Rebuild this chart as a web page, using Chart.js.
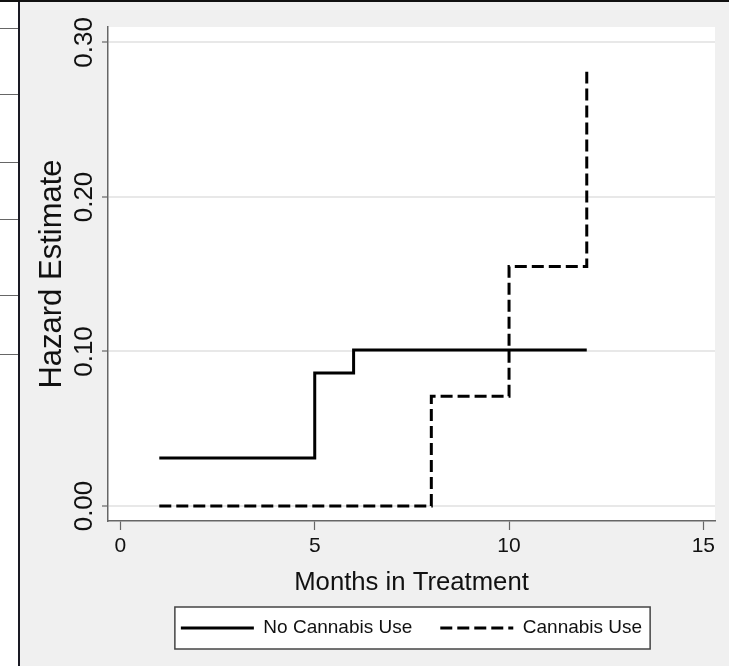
<!DOCTYPE html>
<html>
<head>
<meta charset="utf-8">
<script src="https://cdn.jsdelivr.net/npm/chart.js@4.4.1/dist/chart.umd.min.js"></script>
<style>
  html, body { margin: 0; padding: 0; background: #fff; }
  #page { position: relative; width: 729px; height: 666px; overflow: hidden; }
  #topRule { position: absolute; left: 0; top: 0; width: 729px; height: 2px; background: #111; }
  #leftRule { position: absolute; left: 18px; top: 0; width: 2px; height: 666px; background: #1a1a24; }
  .rowline { position: absolute; left: 0; width: 18px; height: 1px; background: #666; }
  #panel { position: absolute; left: 20px; top: 2px; width: 709px; height: 664px; background: #f0f0f0; }
</style>
</head>
<body>
<div id="page">
  <div class="rowline" style="top:28px"></div>
  <div class="rowline" style="top:94px"></div>
  <div class="rowline" style="top:162px"></div>
  <div class="rowline" style="top:219px"></div>
  <div class="rowline" style="top:295px"></div>
  <div class="rowline" style="top:354px"></div>
  <div id="panel"><canvas id="hazard"></canvas></div>
  <div id="leftRule"></div>
  <div id="topRule"></div>
</div>
<script>
// step hazard estimates
var noCannabisMonths = [1, 5, 6, 12];
var noCannabisHazard = [0.031, 0.086, 0.101, 0.101];
var cannabisMonths = [1, 8, 10, 12];
var cannabisHazard = [0, 0.071, 0.155, 0.281];

var xTicks = [0, 5, 10, 15];
var yTicks = [0, 0.1, 0.2, 0.3];
var yTickLabels = ['0.00', '0.10', '0.20', '0.30'];

var sans = "'Liberation Sans', Arial, sans-serif";

function points(xs, ys) {
  return xs.map(function (x, i) { return { x: x, y: ys[i] }; });
}

var panelPlugin = {
  id: 'panel',
  beforeDraw: function (chart) {
    var ctx = chart.ctx, a = chart.chartArea;
    ctx.save();
    ctx.fillStyle = '#ffffff';
    ctx.fillRect(a.left, a.top, a.right - a.left, a.bottom - a.top);

    // box round the legend
    var boxes = chart.legend.legendHitBoxes;
    var l = Math.min.apply(null, boxes.map(function (b) { return b.left; }));
    var r = Math.max.apply(null, boxes.map(function (b) { return b.left + b.width; }));
    var t = Math.min.apply(null, boxes.map(function (b) { return b.top; }));
    var btm = Math.max.apply(null, boxes.map(function (b) { return b.top + b.height; }));
    ctx.fillRect(l - 6, t - 11.5, r - l + 14, btm - t + 23);
    ctx.strokeStyle = '#444';
    ctx.lineWidth = 1.5;
    ctx.strokeRect(l - 6, t - 11.5, r - l + 14, btm - t + 23);
    ctx.restore();
  }
};

new Chart(document.getElementById('hazard'), {
  type: 'line',
  data: {
    datasets: [
      {
        label: 'No Cannabis Use',
        data: points(noCannabisMonths, noCannabisHazard),
        borderColor: '#000',
        backgroundColor: 'transparent',
        borderWidth: 3,
        stepped: 'before',
        pointRadius: 0
      },
      {
        label: 'Cannabis Use',
        data: points(cannabisMonths, cannabisHazard),
        borderColor: '#000',
        backgroundColor: 'transparent',
        borderWidth: 3,
        borderDash: [12, 5],
        stepped: 'before',
        pointRadius: 0
      }
    ]
  },
  options: {
    responsive: true,
    maintainAspectRatio: false,
    animation: false,
    events: [],
    layout: { padding: { left: 0, right: 14, top: 25, bottom: 18.5 } },
    scales: {
      x: {
        type: 'linear',
        min: -0.32,
        max: 15.3,
        afterBuildTicks: function (axis) {
          axis.ticks = xTicks.map(function (v) { return { value: v }; });
        },
        afterFit: function (axis) { axis.height = 69.5; },
        grid: { drawOnChartArea: false, tickLength: 9, tickColor: '#666', tickWidth: 1.2 },
        border: { color: '#666', width: 1.5 },
        ticks: {
          padding: 3.9,
          color: '#111',
          maxRotation: 0,
          font: { family: sans, size: 21 },
          callback: function (v) { return String(v); }
        },
        title: {
          display: true,
          text: 'Months in Treatment',
          color: '#111',
          padding: { top: 0, bottom: 0 },
          font: { family: sans, size: 25.7, lineHeight: 0.6 }
        }
      },
      y: {
        min: -0.0097,
        max: 0.31,
        afterBuildTicks: function (axis) {
          axis.ticks = yTicks.map(function (v) { return { value: v }; });
        },
        afterFit: function (axis) { axis.width = 88; },
        grid: { color: '#e8e8e8', lineWidth: 2, tickLength: 6, tickColor: '#666', tickWidth: 1.2 },
        border: { color: '#666', width: 1.5 },
        ticks: {
          minRotation: 90,
          maxRotation: 90,
          crossAlign: 'center',
          padding: -8.3,
          color: '#111',
          font: { family: sans, size: 26 },
          callback: function (v, i) { return yTickLabels[i]; }
        },
        title: {
          display: true,
          text: 'Hazard Estimate',
          color: '#111',
          padding: { top: 17, bottom: 0 },
          font: { family: sans, size: 31, lineHeight: 1 }
        }
      }
    },
    plugins: {
      tooltip: { enabled: false },
      legend: {
        position: 'bottom',
        fullSize: false,
        labels: {
          usePointStyle: true,
          pointStyle: 'line',
          pointStyleWidth: 73,
          padding: 28,
          color: '#111',
          font: { family: sans, size: 19 },
          generateLabels: function (chart) {
            var items = Chart.defaults.plugins.legend.labels.generateLabels(chart);
            items.forEach(function (item) {
              var ds = chart.data.datasets[item.datasetIndex];
              item.lineDash = ds.borderDash || [];
              item.lineWidth = ds.borderWidth;
              item.strokeStyle = ds.borderColor;
            });
            return items;
          }
        }
      }
    }
  },
  plugins: [panelPlugin]
});
</script>
</body>
</html>
